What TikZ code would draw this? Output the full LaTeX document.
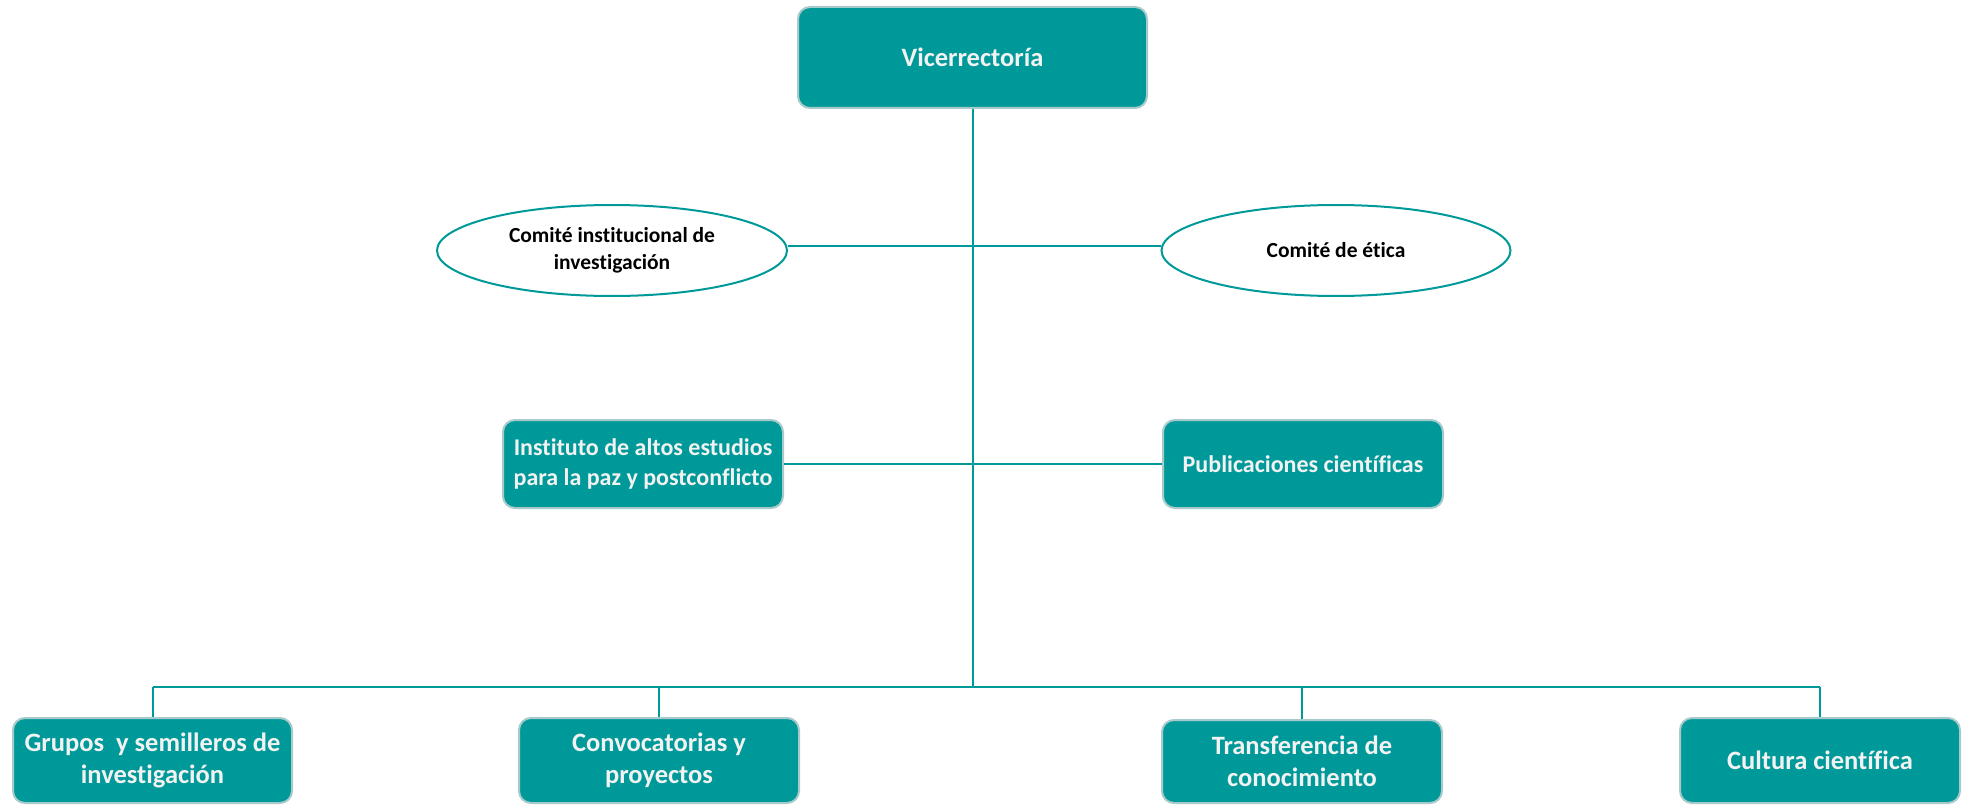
\documentclass[tikz,border=0pt]{standalone}
\usepackage{fontspec}
\setmainfont{Carlito}[RawFeature={-liga;-clig}]
\usetikzlibrary{shapes.geometric}
\definecolor{teal1}{HTML}{009999}
\definecolor{boxedge}{HTML}{A8CACA}
\definecolor{txtw}{HTML}{F2F2F2}
\tikzset{
  tbox/.style={rectangle, rounded corners=12pt, fill=teal1, draw=boxedge, line width=2pt,
    text=txtw, align=center, font=\bfseries, inner sep=0pt},
  ebox/.style={ellipse, draw=teal1, line width=2pt, fill=white, text=black, align=center,
    font=\bfseries\fontsize{21.5}{27}\selectfont, inner sep=0pt},
  link/.style={draw=teal1, line width=2pt},
}
\begin{document}
\begin{tikzpicture}[x=1pt,y=-1pt]
\useasboundingbox (0,0) rectangle (1968,805);
\node[tbox, minimum width=349pt, minimum height=101pt, font=\bfseries\fontsize{26.5}{30}\selectfont] (vice) at (972.5,57.5) {Vicerrectoría};
\node[ebox, minimum width=350pt, minimum height=91pt] (e1) at (612,250.5) {Comité institucional de\\investigación};
\node[ebox, minimum width=349pt, minimum height=91pt] (e2) at (1336,250.5) {Comité de ética};
\node[tbox, minimum width=280pt, minimum height=88pt, font=\bfseries\fontsize{24}{30}\selectfont] (inst) at (643,464) {Instituto de altos estudios\\para la paz y postconflicto};
\node[tbox, minimum width=280pt, minimum height=88pt, font=\bfseries\fontsize{24}{30}\selectfont] (pub) at (1303,464) {Publicaciones científicas};
\node[tbox, minimum width=279pt, minimum height=85pt, font=\bfseries\fontsize{26.5}{32}\selectfont] (gru) at (152.5,760.5) {Grupos \ y semilleros de\\investigación};
\node[tbox, minimum width=280pt, minimum height=85pt, font=\bfseries\fontsize{26.5}{32}\selectfont] (con) at (659,760.5) {Convocatorias y\\proyectos};
\node[tbox, minimum width=280pt, minimum height=83pt, font=\bfseries\fontsize{26.5}{32}\selectfont] (tra) at (1302,761.5) {Transferencia de\\conocimiento};
\node[tbox, minimum width=280pt, minimum height=85pt, font=\bfseries\fontsize{26.5}{32}\selectfont] (cul) at (1820,760.5) {Cultura científica};
\coordinate (bus) at (972.5,687);
\path[link] (vice.south) -- (bus);
\path[link] ([yshift=4pt]e1.east) -- ([yshift=4pt]e2.west);
\path[link] (inst.east) -- (pub.west);
\path[link] (gru.north |- bus) -- (cul.north |- bus);
\path[link] (gru.north |- bus) -- (gru.north);
\path[link] (con.north |- bus) -- (con.north);
\path[link] (tra.north |- bus) -- (tra.north);
\path[link] (cul.north |- bus) -- (cul.north);
\end{tikzpicture}
\end{document}
